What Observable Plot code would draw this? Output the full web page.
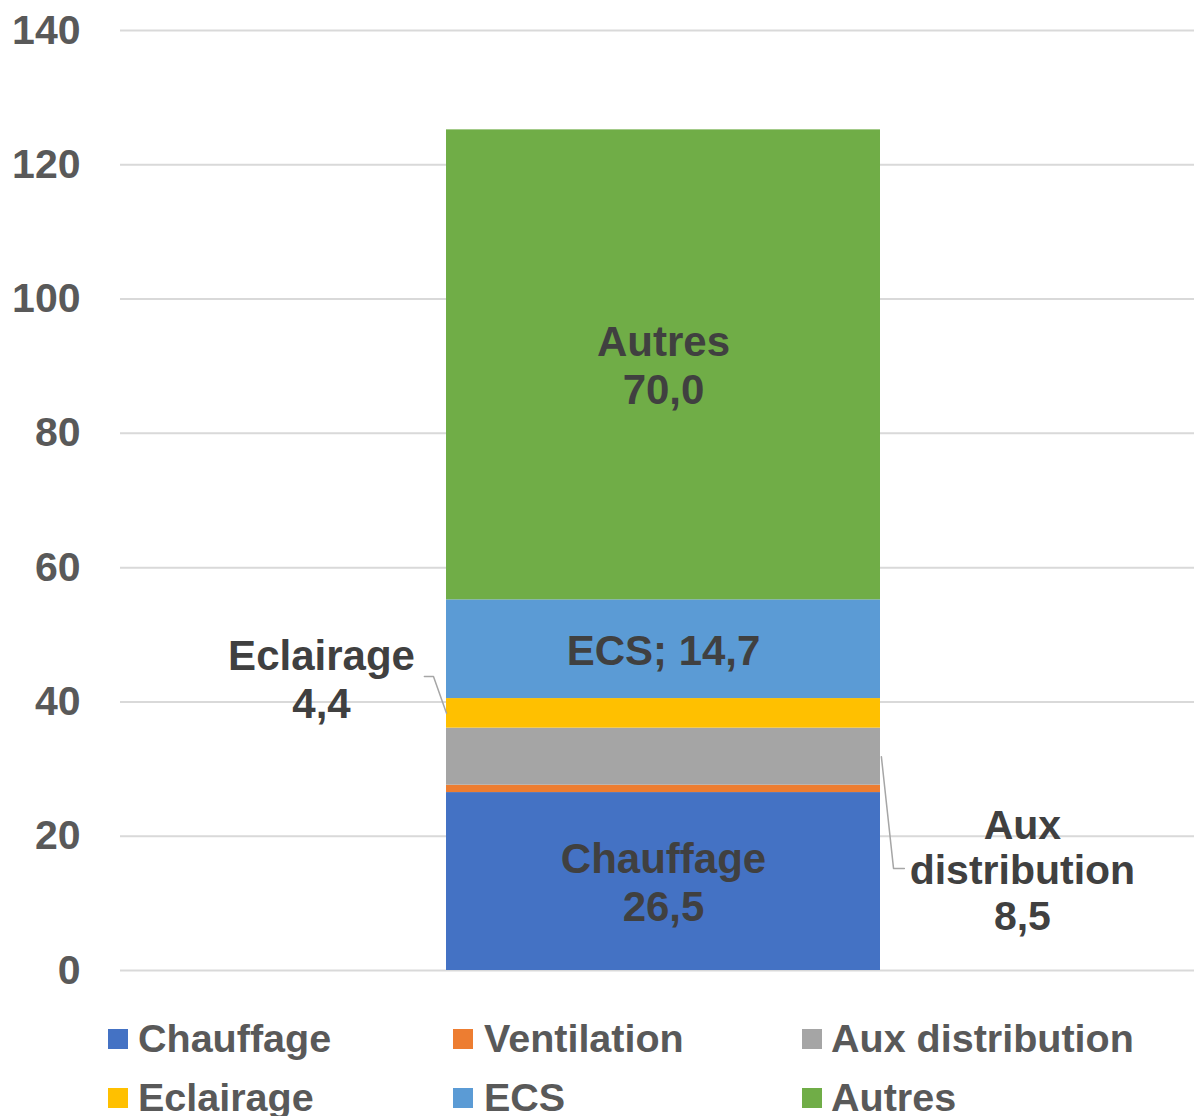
<!DOCTYPE html>
<html>
<head>
<meta charset="utf-8">
<script src="https://cdn.jsdelivr.net/npm/d3@7"></script>
<script src="https://cdn.jsdelivr.net/npm/@observablehq/plot@0.6"></script>
<style>
  html, body { margin: 0; padding: 0; background: #fff; }
  #wrap { position: relative; width: 1194px; height: 1116px; overflow: hidden; font-family: "Liberation Sans", Arial, sans-serif; }
  .lg { position: absolute; font-size: 39.5px; font-weight: bold; color: #595959; line-height: 39px; white-space: nowrap; }
  .sw { position: absolute; width: 20px; height: 20px; }
</style>
</head>
<body>
<div id="wrap"></div>
<script>
// ---- data ----
const categories = ["Chauffage", "Ventilation", "Aux distribution", "Eclairage", "ECS", "Autres"];
const values = [26.5, 1.1, 8.5, 4.4, 14.7, 70.0];
const colors = ["#4472C4", "#ED7D31", "#A5A5A5", "#FFC000", "#5B9BD5", "#70AD47"];
const yTicks = [0, 20, 40, 60, 80, 100, 120, 140];

const fmt = v => d3.format(".1f")(v).replace(".", ",");
const data = categories.map((c, i) => ({category: c, value: values[i]}));
const tops = d3.cumsum(values);
const mids = values.map((v, i) => tops[i] - v / 2);
const idx = c => categories.indexOf(c);

const inside = [
  {y: mids[idx("Chauffage")], text: `Chauffage\n${fmt(values[idx("Chauffage")])}`},
  {y: mids[idx("ECS")], text: `ECS; ${fmt(values[idx("ECS")])}`},
  {y: mids[idx("Autres")], text: `Autres\n${fmt(values[idx("Autres")])}`}
];

const eMid = mids[idx("Eclairage")];
const aMid = mids[idx("Aux distribution")];
const outsideE = [{x: -0.288, y: 43.5, text: `Eclairage\n${fmt(values[idx("Eclairage")])}`}];
const outsideA = [{x: 1.327, y: 15.0, text: `Aux\ndistribution\n${fmt(values[idx("Aux distribution")])}`}];
const leaderE = [{x: -0.051, y: 43.8}, {x: -0.030, y: 43.8}, {x: 0, y: eMid}];
const leaderA = [{x: 1.002, y: aMid}, {x: 1.030, y: 15.2}, {x: 1.055, y: 15.2}];

const chart = Plot.plot({
  width: 1194,
  height: 1000,
  marginLeft: 120,
  marginRight: 0,
  marginTop: 30,
  marginBottom: 30,
  style: {fontFamily: "'Liberation Sans', Arial, sans-serif", fontWeight: "bold", color: "#595959", background: "#fff"},
  x: {type: "linear", domain: [0, 1], range: [446, 880], axis: null},
  y: {domain: [0, 140], label: null},
  color: {domain: categories, range: colors},
  marks: [
    Plot.ruleY(yTicks, {stroke: "#d9d9d9", strokeWidth: 2}),
    Plot.rectY(data, {x1: 0, x2: 1, y: "value", fill: "category"}),
    Plot.axisY({ticks: yTicks, tickSize: 0, tickPadding: 40, fontSize: 41, fontWeight: "bold", label: null, tickFormat: d => String(d)}),
    Plot.text(inside, {x: 0.5, y: "y", text: "text", fontSize: 42, fontWeight: "bold", fill: "#404040", lineHeight: 1.15}),
    Plot.line(leaderE, {x: "x", y: "y", stroke: "#a6a6a6", strokeWidth: 1.5, curve: "linear"}),
    Plot.line(leaderA, {x: "x", y: "y", stroke: "#a6a6a6", strokeWidth: 1.5, curve: "linear"}),
    Plot.text(outsideE, {x: "x", y: "y", text: "text", fontSize: 42, fontWeight: "bold", fill: "#404040", lineHeight: 1.15}),
    Plot.text(outsideA, {x: "x", y: "y", text: "text", fontSize: 41, fontWeight: "bold", fill: "#404040", lineHeight: 1.12})
  ]
});

const wrap = document.getElementById("wrap");
chart.style.position = "absolute";
chart.style.left = "0px";
chart.style.top = "0px";
wrap.appendChild(chart);

// legend
const legendX = [[108, 138], [453, 484], [802, 831]];
const legendRows = [1029, 1088];
categories.forEach((c, i) => {
  const col = i % 3, row = Math.floor(i / 3);
  const sw = document.createElement("div");
  sw.className = "sw";
  sw.style.left = legendX[col][0] + "px";
  sw.style.top = legendRows[row] + "px";
  sw.style.background = colors[i];
  wrap.appendChild(sw);
  const t = document.createElement("div");
  t.className = "lg";
  t.style.left = legendX[col][1] + "px";
  t.style.top = (legendRows[row] - 10) + "px";
  t.textContent = c;
  wrap.appendChild(t);
});
</script>
</body>
</html>
